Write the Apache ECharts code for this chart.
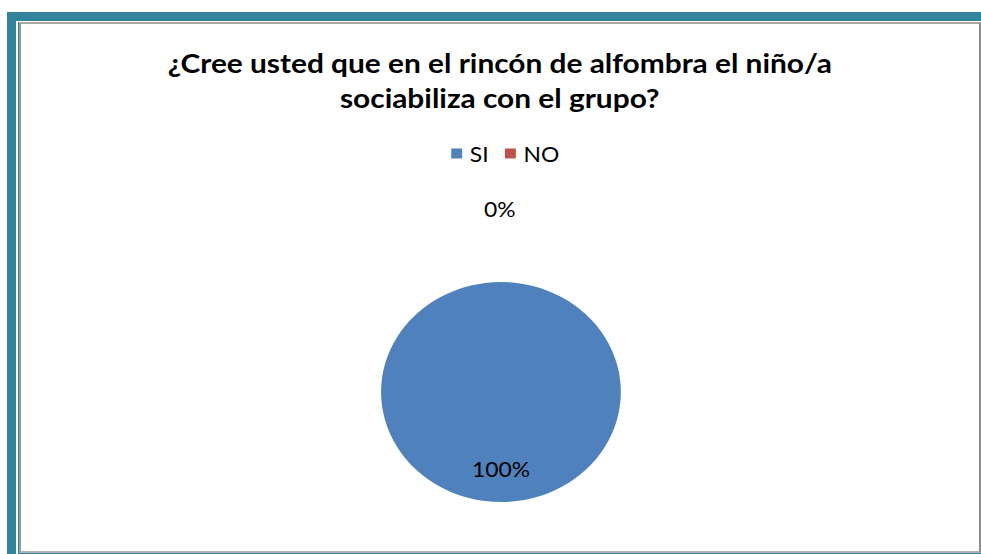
<!DOCTYPE html>
<html>
<head>
<meta charset="utf-8">
<script src="https://cdn.jsdelivr.net/npm/echarts@6/dist/echarts.min.js"></script>
<style>
  html, body { margin:0; padding:0; width:981px; height:554px; overflow:hidden; background:#fff; }
  #teal { position:absolute; left:7px; top:12px; right:0; bottom:0; background:#31849B; }
  #white { position:absolute; left:16px; top:21px; right:0; bottom:0; background:#fff; }
  #thin { position:absolute; left:18px; top:22px; right:0; bottom:0; background:#31849B; }
  #panel { position:absolute; left:19px; top:22px; width:962px; height:531px; box-sizing:border-box;
           background:#fff; border-left:2px solid #9a9a9a; border-top:2px solid #a8a8a8;
           border-right:2px solid #8c8c8c; border-bottom:2px solid #b0b0b0; }
  #chart { position:absolute; left:0; top:0; width:900px; height:554px;
           transform: scaleX(1.09); transform-origin: 0 0; }
</style>
</head>
<body>
<div id="teal"></div>
<div id="white"></div>
<div id="thin"></div>
<div id="panel"></div>
<div id="chart"></div>
<script>
const titleLines = ['¿Cree usted que en el rincón de alfombra el niño/a', 'sociabiliza con el grupo?'];
const categories = ['SI', 'NO'];
const percentValues = [100, 0];
const sliceColors = ['#4F81BD', '#C0504D'];

const chart = echarts.init(document.getElementById('chart'), null, { renderer: 'svg' });
chart.setOption({
  backgroundColor: 'transparent',
  color: sliceColors,
  title: {
    text: titleLines.join('\n'),
    left: 458.5, textAlign: 'center', top: 45, padding: 0,
    textStyle: { fontFamily: 'Lato', fontWeight: 'bold', fontSize: 27.4, color: '#000', lineHeight: 35 }
  },
  legend: {
    data: categories,
    left: 414, top: 143, padding: 0,
    icon: 'rect', itemWidth: 10, itemHeight: 10, itemGap: 15,
    textStyle: { fontFamily: 'Lato', fontSize: 21, color: '#000', padding: [0, 0, 0, 2] }
  },
  series: [{
    type: 'pie',
    center: [459.6, 392],
    radius: 110,
    startAngle: 90,
    clockwise: true,
    avoidLabelOverlap: false,
    silent: true,
    label: { show: true, formatter: '{d}%', fontFamily: 'Lato', fontSize: 21, color: '#000' },
    labelLine: { show: false, length: 50, length2: 0 },
    labelLayout: function (p) {
      if (p.dataIndex === 0) return { dy: 19 };
      return { align: 'center', dx: -6, dy: -23 };
    },
    data: categories.map((c, i) => ({
      name: c, value: percentValues[i],
      label: { position: i === 0 ? 'inside' : 'outside' }
    }))
  }]
});
</script>
</body>
</html>
